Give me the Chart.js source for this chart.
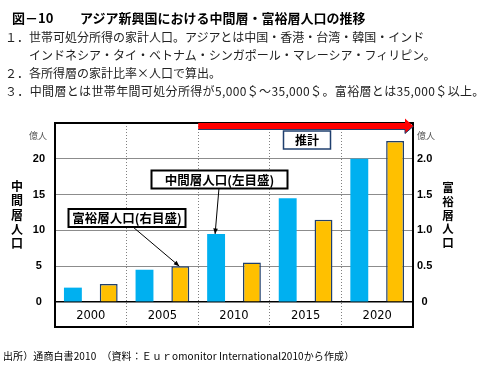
<!DOCTYPE html>
<html lang="ja">
<head>
<meta charset="utf-8">
<script src="https://cdn.jsdelivr.net/npm/chart.js@4.4.1/dist/chart.umd.min.js"></script>
<style>
  html, body { margin: 0; padding: 0; background: #fff; }
  #wrap { position: relative; width: 477px; height: 371px; overflow: hidden;
          font-family: "Noto Sans CJK JP", sans-serif; color: #000; }
  #wrap canvas { position: absolute; left: 0; top: 0; }
  .t { position: absolute; white-space: nowrap; line-height: 1; }
  .title { font-size: 13px; font-weight: bold; top: 11px; }
  .note  { font-size: 12px; left: 5px; color: #222; }
  .unit  { font-size: 9px; color: #555; top: 131px; }
  .vlab  { font-size: 12px; font-weight: bold; width: 14px; text-align: center; white-space: normal; }
  .foot  { font-size: 10px; left: 3px; top: 351px; }
</style>
</head>
<body>
<div id="wrap">
  <canvas id="chart" width="477" height="371"></canvas>

  <div class="t title" style="left:12px">図－10</div>
  <div class="t title" style="left:80px">アジア新興国における中間層・富裕層人口の推移</div>
  <div class="t note" style="top:31px">１．世帯可処分所得の家計人口。アジアとは中国・香港・台湾・韓国・インド</div>
  <div class="t note" style="top:49px;left:29px">インドネシア・タイ・ベトナム・シンガポール・マレーシア・フィリピン。</div>
  <div class="t note" style="top:67px">２．各所得層の家計比率×人口で算出。</div>
  <div class="t note" style="top:85px;letter-spacing:0.35px">３．中間層とは世帯年間可処分所得が5,000＄～35,000＄。富裕層とは35,000＄以上。</div>

  <div class="t unit" style="left:29px">億人</div>
  <div class="t unit" style="left:417px">億人</div>
  <div class="t vlab" style="left:10px;top:179px;line-height:14.3px">中間層人口</div>
  <div class="t vlab" style="left:441px;top:181px;line-height:13.75px;font-size:11.5px">富裕層人口</div>

  <div class="t foot" style="letter-spacing:0.1px">出所）通商白書2010　（資料：Ｅｕｒomonitor International2010から作成）</div>
</div>

<script>
/* ---------- data ---------- */
const years        = ["2000", "2005", "2010", "2015", "2020"];
const middleClass  = [2.0, 4.5, 9.5, 14.5, 20.0];     // 億人, left axis
const wealthyClass = [0.25, 0.5, 0.55, 1.15, 2.25];   // 億人, right axis
const leftTicks    = [0, 5, 10, 15, 20];
const rightTicks   = [0, 0.5, 1.0, 1.5, 2.0];

const LEFT_MAX  = 25,  LEFT_MIN  = -3.5;   // bottom band holds the year labels
const RIGHT_MAX = 2.5, RIGHT_MIN = -0.35;

const BLUE   = "#00B0F0";
const ORANGE = "#FFC000";
const NAVY   = "#1F3F6E";

/* ---------- helpers ---------- */
function arrowLine(ctx, x1, y1, x2, y2) {
  const a = Math.atan2(y2 - y1, x2 - x1), h = 6;
  ctx.beginPath();
  ctx.moveTo(x1, y1);
  ctx.lineTo(x2, y2);
  ctx.stroke();
  ctx.beginPath();
  ctx.moveTo(x2, y2);
  ctx.lineTo(x2 - h * Math.cos(a - 0.4), y2 - h * Math.sin(a - 0.4));
  ctx.lineTo(x2 - h * Math.cos(a + 0.4), y2 - h * Math.sin(a + 0.4));
  ctx.closePath();
  ctx.fill();
}

function labelBox(ctx, x, y, w, h, text, border, lw, size) {
  ctx.fillStyle = "#fff";
  ctx.fillRect(x, y, w, h);
  ctx.strokeStyle = border;
  ctx.lineWidth = lw;
  ctx.strokeRect(x, y, w, h);
  ctx.fillStyle = "#000";
  ctx.font = `bold ${size}px "Noto Sans CJK JP", sans-serif`;
  ctx.textAlign = "center";
  ctx.textBaseline = "middle";
  ctx.fillText(text, x + w / 2, y + h / 2 + 0.5);
}

/* ---------- overlay: forecast arrow, callouts ---------- */
const overlay = {
  id: "overlay",
  afterDatasetsDraw(chart) {
    const { ctx, chartArea: ca, scales: { x } } = chart;
    const step = x.getPixelForValue(1) - x.getPixelForValue(0);
    const startX = x.getPixelForValue(2) - step / 2;   // forecast from 2010
    const top = ca.top;

    ctx.save();
    // red forecast arrow
    ctx.fillStyle = "#FF0000";
    ctx.strokeStyle = NAVY;
    ctx.lineWidth = 1;
    ctx.beginPath();
    ctx.moveTo(startX, top);
    ctx.lineTo(ca.right - 8, top);
    ctx.lineTo(ca.right - 8, top - 4.5);
    ctx.lineTo(ca.right + 0.5, top + 3.2);
    ctx.lineTo(ca.right - 8, top + 10.5);
    ctx.lineTo(ca.right - 8, top + 6.5);
    ctx.lineTo(startX, top + 6.5);
    ctx.closePath();
    ctx.fill();
    ctx.beginPath();
    ctx.moveTo(startX, top + 6.5);
    ctx.lineTo(ca.right - 8, top + 6.5);
    ctx.lineTo(ca.right - 8, top + 10.5);
    ctx.lineTo(ca.right + 0.5, top + 3.2);
    ctx.stroke();

    // 推計 box
    labelBox(ctx, 283.5, 131, 47, 18, "推計", NAVY, 1.5, 12);

    // callout arrows to the bars
    const blueBar   = chart.getDatasetMeta(0).data[2];
    const orangeBar = chart.getDatasetMeta(1).data[1];
    ctx.strokeStyle = "#000";
    ctx.fillStyle = "#000";
    ctx.lineWidth = 1;
    arrowLine(ctx, 219, 188, blueBar.x - 1, blueBar.y);
    arrowLine(ctx, 133, 227, orangeBar.x - 1, orangeBar.y);

    labelBox(ctx, 151.5, 170.5, 136, 18, "中間層人口(左目盛)", "#000", 2, 12.5);
    labelBox(ctx, 68.5, 209, 117, 18, "富裕層人口(右目盛)", "#000", 2, 12.5);
    ctx.restore();
  }
};

/* ---------- chart ---------- */
new Chart(document.getElementById("chart"), {
  type: "bar",
  data: {
    labels: years,
    datasets: [
      {
        label: "中間層人口",
        data: middleClass,
        yAxisID: "y",
        backgroundColor: BLUE,
        borderWidth: 0
      },
      {
        label: "富裕層人口",
        data: wealthyClass,
        yAxisID: "y1",
        backgroundColor: ORANGE,
        borderColor: NAVY,
        borderWidth: 1.5
      }
    ]
  },
  options: {
    responsive: false,
    animation: false,
    events: [],
    layout: { padding: { top: 123, bottom: 44, left: 0, right: 0 } },
    datasets: { bar: { categoryPercentage: 1, barPercentage: 0.5 } },
    plugins: { legend: { display: false }, tooltip: { enabled: false } },
    scales: {
      x: {
        position: { y: 0 },
        grid: { offset: true, color: "#808080", lineWidth: 1, drawTicks: false },
        border: { color: "#000", width: 1.5, dash: [1, 2] },   // dash = dotted dividers
        ticks: { color: "#000", padding: 7,
                 font: { family: "DejaVu Sans", size: 11.5 } }
      },
      y: {
        position: "left",
        min: LEFT_MIN,
        max: LEFT_MAX,
        afterBuildTicks: s => { s.ticks = [LEFT_MIN, ...leftTicks, LEFT_MAX].map(v => ({ value: v })); },
        afterFit: s => { s.width = 55; },
        grid: {
          drawTicks: false,
          color: c => (c.tick.value === LEFT_MIN || c.tick.value === LEFT_MAX || c.tick.value === 0) ? "#000" : "#8c8c8c",
          lineWidth: c => (c.tick.value === LEFT_MIN || c.tick.value === LEFT_MAX) ? 2 : 1
        },
        border: { color: "#000", width: 2 },
        ticks: {
          color: "#000",
          padding: 10,
          crossAlign: "center",
          font: { family: "Liberation Sans", size: 11, weight: "bold" },
          callback: v => leftTicks.includes(v) ? String(v) : ""
        }
      },
      y1: {
        position: "right",
        min: RIGHT_MIN,
        max: RIGHT_MAX,
        afterBuildTicks: s => { s.ticks = rightTicks.map(v => ({ value: v })); },
        afterFit: s => { s.width = 64; },
        grid: { drawOnChartArea: false, drawTicks: false },
        border: { color: "#000", width: 2 },
        ticks: {
          color: "#000",
          padding: 4,
          crossAlign: "center",
          font: { family: "Liberation Sans", size: 11, weight: "bold" },
          callback: v => v === 0 ? "0" : v.toFixed(1)
        }
      }
    }
  },
  plugins: [overlay]
});
</script>
</body>
</html>
